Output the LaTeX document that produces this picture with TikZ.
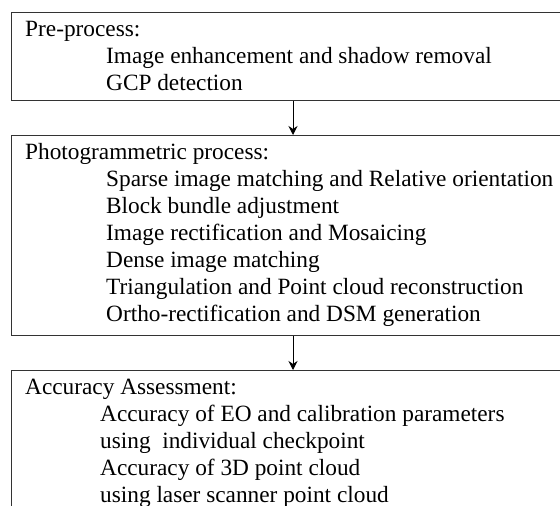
\documentclass[tikz,border=0pt]{standalone}
\usepackage{fontspec}
\setmainfont{Liberation Serif}
\usetikzlibrary{arrows.meta}
\begin{document}
\begin{tikzpicture}[x=1pt,y=-1pt,
  stagebox/.style={draw=black!80, line width=1.3pt, fill=white, anchor=north west,
    minimum width=600pt, inner sep=0pt},
  head/.style={anchor=base west, inner sep=0pt, font=\fontsize{23.3}{28}\selectfont},
  item/.style={anchor=base west, inner sep=0pt, font=\fontsize{23.3}{28}\selectfont},
  flow/.style={draw=black, line width=1pt, -{Stealth[length=9pt,width=9pt,inset=3pt]}}]
\useasboundingbox (0,0) rectangle (560,506);
\clip (0,0) rectangle (560,506);
\fill[white] (0,0) rectangle (560,506);

% stage boxes
\node[stagebox, minimum height=88pt] (pre) at (11,12) {};
\node[stagebox, minimum height=200pt] (photo) at (11,135) {};
\node[stagebox, minimum height=200pt] (acc) at (11,370) {};

% connectors
\draw[flow] ([xshift=282pt]pre.south west) -- ([xshift=282pt]photo.north west);
\draw[flow] ([xshift=282pt]photo.south west) -- ([xshift=282pt]acc.north west);

% pre-processing
\node[head] (preh) at (25,36) {Pre-process:};
\node[item] (pre1) at (106,63) {Image enhancement and shadow removal};
\node[item] (pre2) at (106,90) {GCP detection};

% photogrammetric chain
\node[head] (phoh) at (25,159) {Photogrammetric process:};
\node[item] (pho1) at (106,186) {Sparse image matching and Relative orientation};
\node[item] (pho2) at (106,213) {Block bundle adjustment};
\node[item] (pho3) at (106,240) {Image rectification and Mosaicing};
\node[item] (pho4) at (106,267) {Dense image matching};
\node[item] (pho5) at (106,294) {Triangulation and Point cloud reconstruction};
\node[item] (pho6) at (106,321) {Ortho-rectification and DSM generation};

% accuracy assessment
\node[head] (acch) at (25,394) {Accuracy Assessment:};
\node[item] (acc1) at (100,421) {Accuracy of EO and calibration parameters};
\node[item] (acc2) at (100,448) {using\ \ individual checkpoint};
\node[item] (acc3) at (100,475) {Accuracy of 3D point cloud};
\node[item] (acc4) at (100,502) {using laser scanner point cloud};
\end{tikzpicture}
\end{document}
